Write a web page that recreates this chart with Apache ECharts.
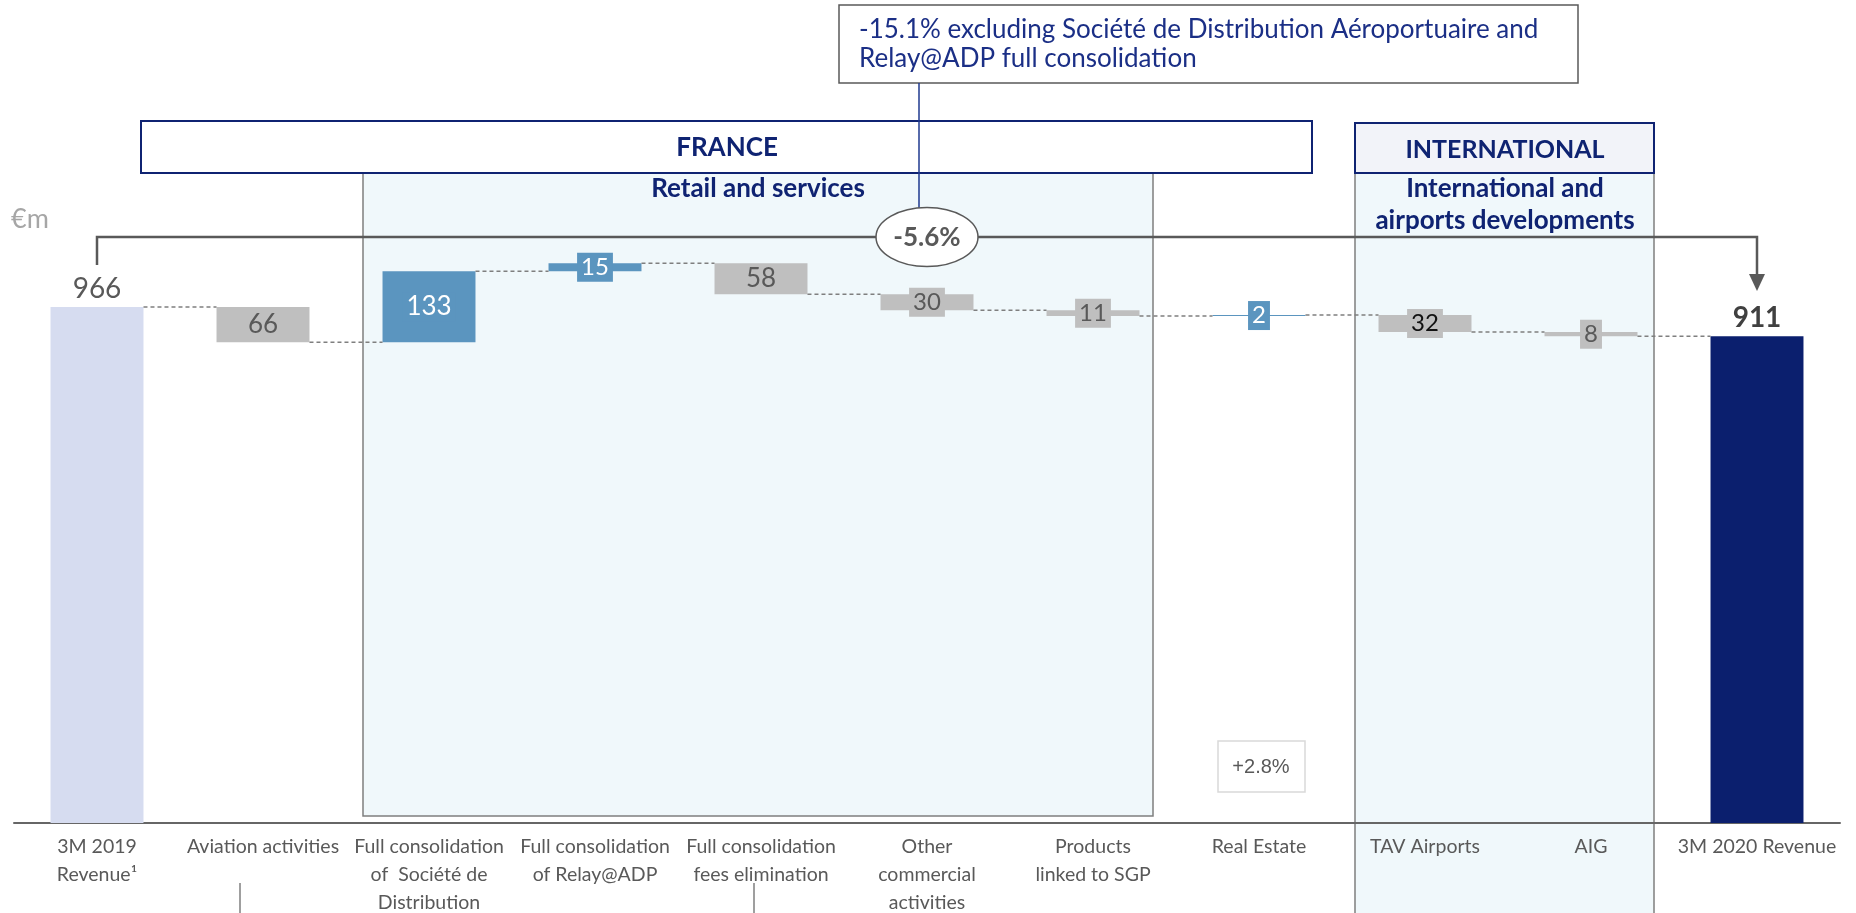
<!DOCTYPE html>
<html>
<head>
<meta charset="utf-8">
<script src="https://cdn.jsdelivr.net/npm/echarts@6/dist/echarts.min.js"></script>
<style>
  html, body { margin: 0; padding: 0; background: #fff; }
  #chart { width: 1856px; height: 913px; }
</style>
</head>
<body>
<div id="chart"></div>
<script>
  // data
  const categories = [
    '3M 2019\nRevenue¹',
    'Aviation activities',
    'Full consolidation\nof  Société de\nDistribution',
    'Full consolidation\nof Relay@ADP',
    'Full consolidation\nfees elimination',
    'Other\ncommercial\nactivities',
    'Products\nlinked to SGP',
    'Real Estate',
    'TAV Airports',
    'AIG',
    '3M 2020 Revenue'
  ];
  const startValue = 966;
  const deltas = [-66, 133, 15, -58, -30, -11, 2, -32, -8];
  const endValue = 911;
  const totalChange = '-5.6%';
  const realEstateChange = '+2.8%';

  const FONT = "Lato, 'Noto Sans', sans-serif";
  const NAVY = '#0F2372';
  const GREY_TXT = '#595959';
  const POS = '#5B95BF';
  const NEG = '#BFBFBF';

  // waterfall: invisible base + visible step
  const base = [0];
  const size = [startValue];
  const level = [startValue];
  let run = startValue;
  deltas.forEach(d => {
    const next = run + d;
    base.push(Math.min(run, next));
    size.push(Math.abs(d));
    run = next;
    level.push(run);
  });
  base.push(0);
  size.push(endValue);
  level.push(endValue);

  const last = size.length - 1;
  const stepData = size.map((v, i) => {
    if (i === 0) {
      return {
        value: v,
        itemStyle: { color: '#D6DCF0' },
        label: { show: true, position: 'top', distance: 4, formatter: String(v),
          color: GREY_TXT, fontSize: 28, fontFamily: FONT }
      };
    }
    if (i === last) {
      return {
        value: v,
        itemStyle: { color: '#0B1F6E' },
        label: { show: true, position: 'top', distance: 4, formatter: String(v),
          color: '#404040', fontSize: 28, fontWeight: 'bold', fontFamily: FONT }
      };
    }
    const d = deltas[i - 1];
    const c = d > 0 ? POS : NEG;
    let tc = d > 0 ? '#ffffff' : GREY_TXT;
    if (categories[i] === 'TAV Airports') tc = '#111111';
    return {
      value: v,
      itemStyle: { color: c },
      label: { show: true, position: 'inside', formatter: String(Math.abs(d)),
        color: tc, backgroundColor: c, padding: [0, 4], lineHeight: 29,
        fontSize: Math.abs(d) > 50 ? 26 : 24, fontFamily: FONT }
    };
  });

  const chart = echarts.init(document.getElementById('chart'));

  const option = {
    animation: false,
    backgroundColor: '#ffffff',
    grid: { left: 14, right: 16, top: 182, bottom: 90, containLabel: false, outerBoundsMode: 'none' },
    xAxis: {
      type: 'category',
      data: categories,
      axisLine: { lineStyle: { color: '#666666', width: 2 } },
      axisTick: { show: false },
      axisLabel: { interval: 0, color: GREY_TXT, fontSize: 19.5, lineHeight: 28, margin: 10, fontFamily: FONT }
    },
    yAxis: {
      type: 'value', min: 0, max: 1200, show: false,
      splitLine: { show: false }
    },
    series: [
      {
        name: 'base', type: 'bar', stack: 'wf', barWidth: '56%', silent: true,
        itemStyle: { color: 'transparent' }, data: base
      },
      {
        name: 'step', type: 'bar', stack: 'wf', barWidth: '56%',
        data: stepData
      },
      {
        name: 'links', type: 'custom', silent: true, z: 3,
        data: level.slice(0, -1).map((lv, i) => [i, lv]),
        renderItem: (params, api) => {
          const i = api.value(0);
          const lv = api.value(1);
          const a = api.coord([i, lv]);
          const b = api.coord([i + 1, lv]);
          const half = api.size([1, 0])[0] * 0.28;
          return {
            type: 'line',
            shape: { x1: a[0] + half, y1: a[1], x2: b[0] - half, y2: b[1] },
            style: { stroke: '#7F7F7F', lineWidth: 1.5, lineDash: [4, 3] }
          };
        }
      }
    ]
  };
  chart.setOption(option);

  // annotations around the plot
  const p0 = chart.convertToPixel({ gridIndex: 0 }, [0, startValue]);
  const pN = chart.convertToPixel({ gridIndex: 0 }, [last, endValue]);
  const bracketY = 237;

  const txt = (text, x, y, o) => Object.assign({
    type: 'text', z: 20,
    style: Object.assign({ text, x, y, fill: NAVY, fontFamily: FONT, fontSize: 20,
      textAlign: 'center', textVerticalAlign: 'middle' }, o || {})
  });

  chart.setOption({
    graphic: [
      // region backgrounds
      { type: 'rect', z: -1, shape: { x: 363, y: 173, width: 790, height: 643 },
        style: { fill: '#F0F8FB', stroke: '#7F7F7F', lineWidth: 1.5 } },
      { type: 'rect', z: -1, shape: { x: 1355, y: 173, width: 299, height: 760 },
        style: { fill: '#F0F8FB', stroke: '#7F7F7F', lineWidth: 1.5 } },
      // headers
      { type: 'rect', z: 10, shape: { x: 141, y: 121, width: 1171, height: 52 },
        style: { fill: '#ffffff', stroke: NAVY, lineWidth: 2 } },
      { type: 'rect', z: 10, shape: { x: 1355, y: 123, width: 299, height: 50 },
        style: { fill: '#F2F3F9', stroke: NAVY, lineWidth: 2 } },
      txt('FRANCE', 727, 148, { fontSize: 26, fontWeight: 'bold' }),
      txt('INTERNATIONAL', 1505, 150, { fontSize: 25, fontWeight: 'bold' }),
      txt('Retail and services', 758, 189, { fontSize: 26, fontWeight: 'bold' }),
      txt('International and', 1505, 189, { fontSize: 26, fontWeight: 'bold' }),
      txt('airports developments', 1505, 221, { fontSize: 26, fontWeight: 'bold' }),
      // note box at the top
      { type: 'rect', z: 10, shape: { x: 839, y: 5, width: 739, height: 78 },
        style: { fill: '#ffffff', stroke: GREY_TXT, lineWidth: 1.5 } },
      txt('-15.1% excluding Société de Distribution Aéroportuaire and', 859, 30,
        { fontSize: 26, textAlign: 'left', fill: '#1B2F86' }),
      txt('Relay@ADP full consolidation', 859, 59,
        { fontSize: 26, textAlign: 'left', fill: '#1B2F86' }),
      { type: 'line', z: 15, shape: { x1: 919, y1: 83, x2: 919, y2: 209 },
        style: { stroke: '#1F3A8F', lineWidth: 1.5 } },
      // total change bracket
      { type: 'polyline', z: 15,
        shape: { points: [[p0[0], 265], [p0[0], bracketY], [pN[0], bracketY], [pN[0], 276]] },
        style: { stroke: GREY_TXT, lineWidth: 2.5, fill: null } },
      { type: 'polygon', z: 15,
        shape: { points: [[pN[0] - 8, 274], [pN[0] + 8, 274], [pN[0], 291]] },
        style: { fill: GREY_TXT } },
      { type: 'ellipse', z: 16, shape: { cx: 927, cy: bracketY, rx: 51, ry: 29.5 },
        style: { fill: '#ffffff', stroke: GREY_TXT, lineWidth: 1.5 } },
      txt(totalChange, 927, bracketY + 1, { fontSize: 26, fontWeight: 'bold', fill: GREY_TXT }),
      // unit
      txt('€m', 11, 219, { fontSize: 27, textAlign: 'left', fill: '#A6A6A6' }),
      // real estate growth
      { type: 'rect', z: 10, shape: { x: 1218, y: 741, width: 87, height: 51 },
        style: { fill: '#ffffff', stroke: '#D9D9D9', lineWidth: 1.5 } },
      txt(realEstateChange, 1261, 767, { fontSize: 20, fill: GREY_TXT, fontFamily: "'Liberation Sans', Arial, sans-serif" }),
      // small ticks under labels
      { type: 'line', z: 10, shape: { x1: 240, y1: 883, x2: 240, y2: 913 },
        style: { stroke: '#7F7F7F', lineWidth: 1.5 } },
      { type: 'line', z: 10, shape: { x1: 754, y1: 883, x2: 754, y2: 913 },
        style: { stroke: '#7F7F7F', lineWidth: 1.5 } }
    ]
  });
</script>
</body>
</html>
